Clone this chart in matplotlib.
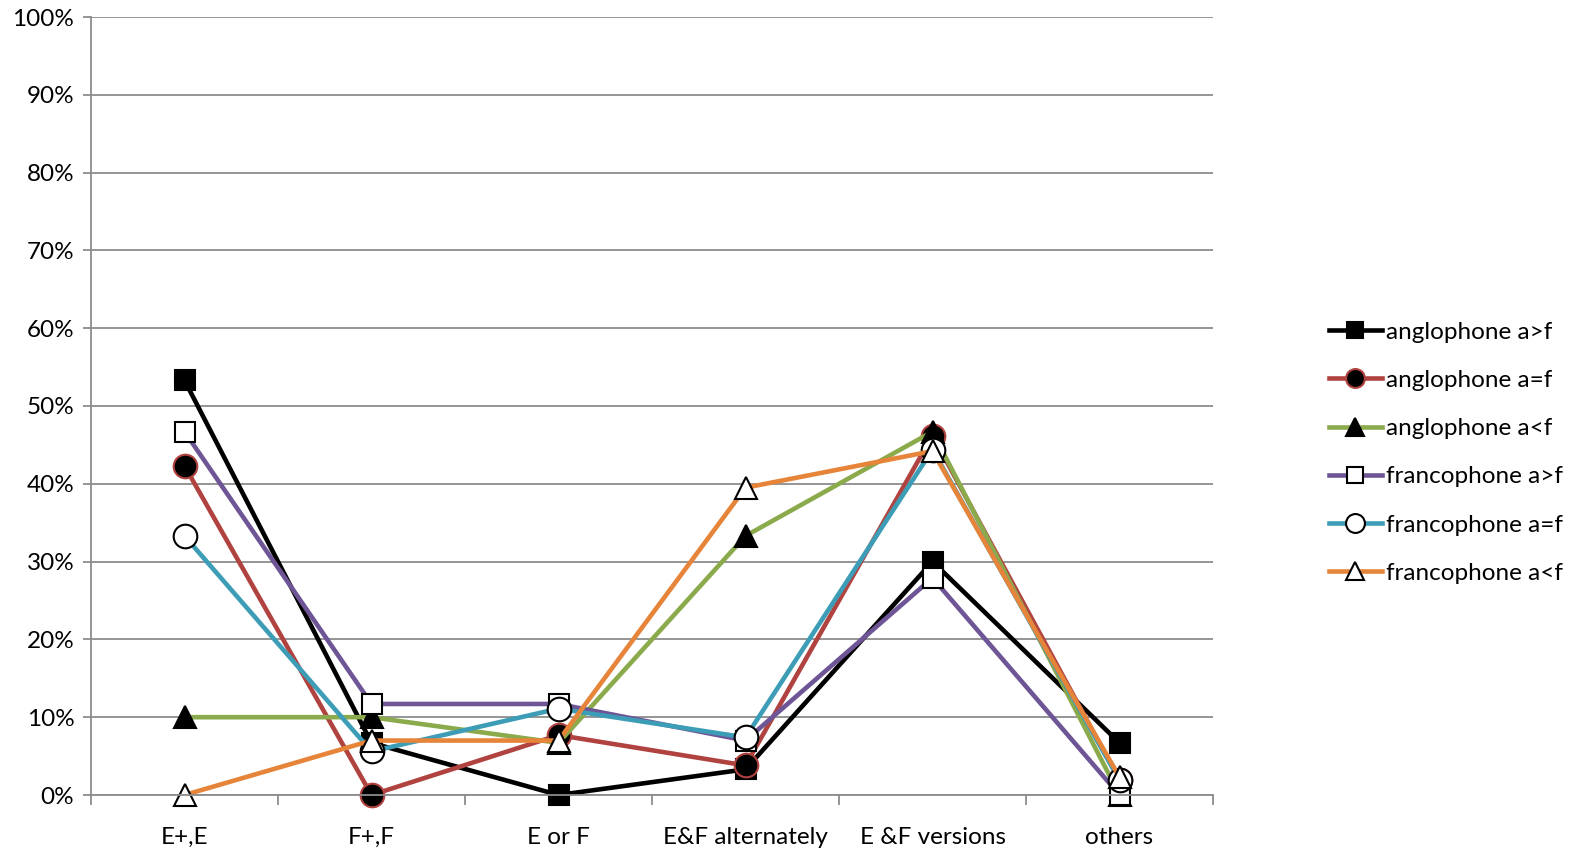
import numpy as np
import matplotlib.pyplot as plt
from matplotlib.ticker import PercentFormatter

categories = ['E+,E', 'F+,F', 'E or F', 'E&F alternately', 'E &F versions', 'others']

# share of answers per category, in percent
anglo_gt = [53.3, 6.7, 0.0, 3.3, 30.0, 6.7]
anglo_eq = [42.3, 0.0, 7.7, 3.8, 46.2, 1.9]
anglo_lt = [10.0, 10.0, 6.7, 33.3, 46.7, 0.0]
franco_gt = [46.7, 11.7, 11.7, 7.0, 27.9, 0.0]
franco_eq = [33.3, 5.6, 11.1, 7.4, 44.4, 1.9]
franco_lt = [0.0, 7.0, 7.0, 39.5, 44.2, 2.3]

series = [
    ('anglophone a>f', anglo_gt, '#000000', 's', '#000000', '#000000', 14),
    ('anglophone a=f', anglo_eq, '#B0433F', 'o', '#000000', '#B0433F', 17),
    ('anglophone a<f', anglo_lt, '#8BAA4B', '^', '#000000', '#000000', 16),
    ('francophone a>f', franco_gt, '#6E5596', 's', 'white', '#000000', 14),
    ('francophone a=f', franco_eq, '#3D9DB6', 'o', 'white', '#000000', 17),
    ('francophone a<f', franco_lt, '#E6843A', '^', 'white', '#000000', 16),
]

plt.rcParams['font.family'] = ['Lato', 'DejaVu Sans']
fs = 17.5

fig = plt.figure(figsize=(15.85, 8.52), dpi=100)
ax = fig.add_axes([91 / 1585, 1 - 795 / 852, (1213 - 91) / 1585, (795 - 17) / 852])

x = np.arange(len(categories))
for name, vals, color, marker, face, edge, ms in series:
    ax.plot(x, vals, color=color, lw=3.3, marker=marker, markersize=ms,
            markerfacecolor=face, markeredgecolor=edge, markeredgewidth=1.5,
            label=name, clip_on=False)

ax.set_xlim(-0.5, len(categories) - 0.5)
ax.set_ylim(0, 100)
ax.set_yticks(np.arange(0, 101, 10))
ax.yaxis.set_major_formatter(PercentFormatter(decimals=0))
ax.set_xticks(x)
ax.set_xticklabels(categories)
ax.set_xticks(np.arange(-0.5, len(categories)), minor=True)

grid_color = '#8C8C8C'
ax.grid(axis='y', color=grid_color, lw=1.3)
ax.set_axisbelow(True)
for side in ['top', 'right']:
    ax.spines[side].set_visible(False)
for side in ['left', 'bottom']:
    ax.spines[side].set_color(grid_color)
    ax.spines[side].set_linewidth(1.3)

ax.tick_params(axis='x', which='major', length=0, pad=23, labelsize=fs)
ax.tick_params(axis='x', which='minor', length=7, color=grid_color, width=1.3)
ax.tick_params(axis='y', length=6, color=grid_color, width=1.3, pad=6, labelsize=fs)

ax.legend(loc='center left', bbox_to_anchor=(1.103, 0.44), frameon=False,
          fontsize=fs, handlelength=2.2, labelspacing=1.12, handletextpad=0.15,
          markerscale=0.8, borderaxespad=0, borderpad=0)

fig.savefig('out.png', dpi=100)
